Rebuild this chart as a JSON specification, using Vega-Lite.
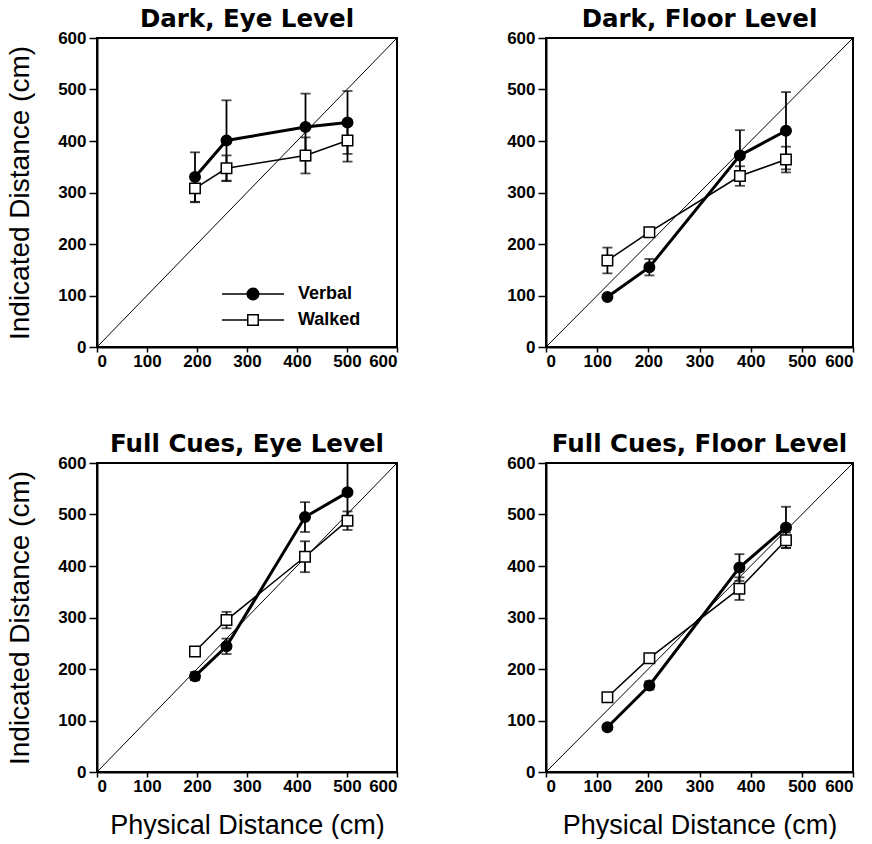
{
  "$schema": "https://vega.github.io/schema/vega-lite/v6.json",
  "background": "white",
  "padding": {"left": 5, "top": 5, "right": 5, "bottom": 0},
  "config": {
    "view": {"stroke": "black", "strokeWidth": 2},
    "axis": {
      "grid": false,
      "domainColor": "black", "domainWidth": 2,
      "tickColor": "black", "tickWidth": 1.5,
      "labelFont": "Liberation Sans", "labelFontWeight": "bold", "labelFontSize": 17, "labelColor": "black",
      "titleFont": "Liberation Sans", "titleFontWeight": "normal", "titleColor": "black",
      "values": [0, 100, 200, 300, 400, 500, 600]
    },
    "axisX": {"titlePadding": 18, "tickSize": 5, "labelPadding": 1, "titleFontSize": 27},
    "axisY": {"titlePadding": 23, "tickSize": 8, "labelPadding": 3, "titleFontSize": 28},
    "title": {"font": "DejaVu Sans", "fontWeight": "bold", "fontSize": 24.5, "color": "black", "offset": -3},
    "legend": {"padding": 0, "labelFont": "Liberation Sans", "labelFontWeight": "bold", "labelFontSize": 18, "labelColor": "black"}
  },
  "datasets": {
    "obs": [
      {"panel": "DE", "cond": "Verbal", "phys": 196, "ind": 330, "lo": 282, "hi": 378},
      {"panel": "DE", "cond": "Verbal", "phys": 259, "ind": 401, "lo": 323, "hi": 479},
      {"panel": "DE", "cond": "Verbal", "phys": 417, "ind": 427, "lo": 362, "hi": 492},
      {"panel": "DE", "cond": "Verbal", "phys": 501, "ind": 436, "lo": 375, "hi": 497},
      {"panel": "DE", "cond": "Walked", "phys": 196, "ind": 308, "lo": 281, "hi": 335},
      {"panel": "DE", "cond": "Walked", "phys": 259, "ind": 347, "lo": 322, "hi": 372},
      {"panel": "DE", "cond": "Walked", "phys": 417, "ind": 372, "lo": 337, "hi": 407},
      {"panel": "DE", "cond": "Walked", "phys": 501, "ind": 401, "lo": 360, "hi": 441},
      {"panel": "DF", "cond": "Verbal", "phys": 120, "ind": 97, "lo": 94, "hi": 100},
      {"panel": "DF", "cond": "Verbal", "phys": 202, "ind": 155, "lo": 139, "hi": 171},
      {"panel": "DF", "cond": "Verbal", "phys": 379, "ind": 372, "lo": 323, "hi": 421},
      {"panel": "DF", "cond": "Verbal", "phys": 469, "ind": 420, "lo": 345, "hi": 495},
      {"panel": "DF", "cond": "Walked", "phys": 120, "ind": 168, "lo": 143, "hi": 193},
      {"panel": "DF", "cond": "Walked", "phys": 202, "ind": 223, "lo": 215, "hi": 231},
      {"panel": "DF", "cond": "Walked", "phys": 379, "ind": 332, "lo": 313, "hi": 351},
      {"panel": "DF", "cond": "Walked", "phys": 469, "ind": 364, "lo": 339, "hi": 389},
      {"panel": "FE", "cond": "Verbal", "phys": 196, "ind": 186, "lo": 178, "hi": 194},
      {"panel": "FE", "cond": "Verbal", "phys": 259, "ind": 244, "lo": 229, "hi": 259},
      {"panel": "FE", "cond": "Verbal", "phys": 416, "ind": 495, "lo": 466, "hi": 524},
      {"panel": "FE", "cond": "Verbal", "phys": 501, "ind": 543, "lo": 486, "hi": 600},
      {"panel": "FE", "cond": "Walked", "phys": 196, "ind": 234, "lo": 230, "hi": 238},
      {"panel": "FE", "cond": "Walked", "phys": 259, "ind": 295, "lo": 279, "hi": 311},
      {"panel": "FE", "cond": "Walked", "phys": 416, "ind": 418, "lo": 388, "hi": 448},
      {"panel": "FE", "cond": "Walked", "phys": 501, "ind": 488, "lo": 470, "hi": 506},
      {"panel": "FF", "cond": "Verbal", "phys": 120, "ind": 87, "lo": 83, "hi": 91},
      {"panel": "FF", "cond": "Verbal", "phys": 202, "ind": 168, "lo": 160, "hi": 176},
      {"panel": "FF", "cond": "Verbal", "phys": 378, "ind": 397, "lo": 371, "hi": 423},
      {"panel": "FF", "cond": "Verbal", "phys": 469, "ind": 475, "lo": 435, "hi": 515},
      {"panel": "FF", "cond": "Walked", "phys": 120, "ind": 145, "lo": 141, "hi": 149},
      {"panel": "FF", "cond": "Walked", "phys": 202, "ind": 221, "lo": 215, "hi": 227},
      {"panel": "FF", "cond": "Walked", "phys": 378, "ind": 356, "lo": 334, "hi": 378},
      {"panel": "FF", "cond": "Walked", "phys": 469, "ind": 450, "lo": 435, "hi": 465}
    ],
    "diag": [{"p0": 0, "p1": 600}]
  },
  "resolve": {"scale": {"strokeWidth": "independent", "shape": "independent", "fill": "independent"}},
  "spacing": 60,
  "vconcat": [
    {
      "resolve": {"scale": {"strokeWidth": "independent", "shape": "independent", "fill": "independent"}},
      "spacing": 106,
      "hconcat": [
        {
          "title": "Dark, Eye Level",
          "width": 300, "height": 309,
          "resolve": {"scale": {"shape": "independent", "fill": "independent"}},
          "layer": [
            {"data": {"name": "diag"}, "mark": {"type": "rule", "color": "black", "strokeWidth": 1},
             "encoding": {"x": {"field": "p0", "type": "quantitative", "scale": {"domain": [0, 600]}, "title": null},
                          "y": {"field": "p0", "type": "quantitative", "scale": {"domain": [0, 600]}, "title": "Indicated Distance (cm)"},
                          "x2": {"field": "p1"}, "y2": {"field": "p1"}}},
            {"data": {"name": "obs"}, "transform": [{"filter": "datum.panel === 'DE'"}],
             "mark": {"type": "errorbar", "color": "black", "thickness": 1.8, "ticks": {"size": 10, "thickness": 1.8, "color": "black"}},
             "encoding": {"x": {"field": "phys", "type": "quantitative", "title": null}, "y": {"field": "lo", "type": "quantitative", "title": "Indicated Distance (cm)"}, "y2": {"field": "hi"}}},
            {"data": {"name": "obs"}, "transform": [{"filter": "datum.panel === 'DE'"}],
             "mark": {"type": "line", "color": "black"},
             "encoding": {"x": {"field": "phys", "type": "quantitative", "title": null}, "y": {"field": "ind", "type": "quantitative", "title": "Indicated Distance (cm)"},
                          "strokeWidth": {"field": "cond", "type": "nominal", "scale": {"range": [3, 1.5]}, "legend": null}}},
            {"data": {"name": "obs"}, "transform": [{"filter": "datum.panel === 'DE'"}],
             "mark": {"type": "point", "filled": false, "stroke": "black", "strokeWidth": 1.5, "size": 110, "opacity": 1},
             "encoding": {"x": {"field": "phys", "type": "quantitative", "title": null}, "y": {"field": "ind", "type": "quantitative", "title": "Indicated Distance (cm)"},
                          "shape": {"field": "cond", "type": "nominal", "scale": {"domain": ["Verbal", "Walked"], "range": ["circle", "square"]}, "legend": null},
                          "fill": {"field": "cond", "type": "nominal", "scale": {"domain": ["Verbal", "Walked"], "range": ["black", "white"]}, "legend": null}}},
            {"data": {"name": "obs"}, "transform": [{"filter": "false"}],
             "mark": {"type": "point", "filled": false, "stroke": "black", "strokeWidth": 1.5, "size": 110, "opacity": 1},
             "encoding": {"x": {"field": "phys", "type": "quantitative", "title": null}, "y": {"field": "ind", "type": "quantitative", "title": "Indicated Distance (cm)"},
                          "shape": {"field": "cond", "type": "nominal",
                                    "scale": {"domain": ["Verbal", "Walked"], "range": ["M-5.9,0H-1.1A1.1,1.1 0 1,1 1.1,0A1.1,1.1 0 1,1 -1.1,0M1.1,0H5.9", "M-5.9,0H-1M-1,-1H1V1H-1ZM1,0H5.9"]},
                                    "legend": {"title": null, "orient": "none", "legendX": 147, "legendY": 247, "symbolSize": 110, "labelOffset": 36, "rowPadding": 8}},
                          "fill": {"field": "cond", "type": "nominal", "scale": {"domain": ["Verbal", "Walked"], "range": ["black", "white"]},
                                   "legend": {"title": null, "orient": "none", "legendX": 147, "legendY": 247, "symbolSize": 110, "labelOffset": 36, "rowPadding": 8}}}}
          ]
        },
        {
          "title": "Dark, Floor Level",
          "width": 307, "height": 309,
          "layer": [
            {"data": {"name": "diag"}, "mark": {"type": "rule", "color": "black", "strokeWidth": 1},
             "encoding": {"x": {"field": "p0", "type": "quantitative", "scale": {"domain": [0, 600]}, "title": null},
                          "y": {"field": "p0", "type": "quantitative", "scale": {"domain": [0, 600]}, "title": null},
                          "x2": {"field": "p1"}, "y2": {"field": "p1"}}},
            {"data": {"name": "obs"}, "transform": [{"filter": "datum.panel === 'DF'"}],
             "mark": {"type": "errorbar", "color": "black", "thickness": 1.8, "ticks": {"size": 10, "thickness": 1.8, "color": "black"}},
             "encoding": {"x": {"field": "phys", "type": "quantitative", "title": null}, "y": {"field": "lo", "type": "quantitative", "title": null}, "y2": {"field": "hi"}}},
            {"data": {"name": "obs"}, "transform": [{"filter": "datum.panel === 'DF'"}],
             "mark": {"type": "line", "color": "black"},
             "encoding": {"x": {"field": "phys", "type": "quantitative", "title": null}, "y": {"field": "ind", "type": "quantitative", "title": null},
                          "strokeWidth": {"field": "cond", "type": "nominal", "scale": {"domain": ["Verbal", "Walked"], "range": [3, 1.5]}, "legend": null}}},
            {"data": {"name": "obs"}, "transform": [{"filter": "datum.panel === 'DF'"}],
             "mark": {"type": "point", "filled": false, "stroke": "black", "strokeWidth": 1.5, "size": 110, "opacity": 1},
             "encoding": {"x": {"field": "phys", "type": "quantitative", "title": null}, "y": {"field": "ind", "type": "quantitative", "title": null},
                          "shape": {"field": "cond", "type": "nominal", "scale": {"domain": ["Verbal", "Walked"], "range": ["circle", "square"]}, "legend": null},
                          "fill": {"field": "cond", "type": "nominal", "scale": {"domain": ["Verbal", "Walked"], "range": ["black", "white"]}, "legend": null}}}
          ]
        }
      ]
    },
    {
      "resolve": {"scale": {"strokeWidth": "independent", "shape": "independent", "fill": "independent"}},
      "spacing": 106,
      "hconcat": [
        {
          "title": "Full Cues, Eye Level",
          "width": 300, "height": 309,
          "layer": [
            {"data": {"name": "diag"}, "mark": {"type": "rule", "color": "black", "strokeWidth": 1},
             "encoding": {"x": {"field": "p0", "type": "quantitative", "scale": {"domain": [0, 600]}, "title": "Physical Distance (cm)"},
                          "y": {"field": "p0", "type": "quantitative", "scale": {"domain": [0, 600]}, "title": "Indicated Distance (cm)"},
                          "x2": {"field": "p1"}, "y2": {"field": "p1"}}},
            {"data": {"name": "obs"}, "transform": [{"filter": "datum.panel === 'FE'"}],
             "mark": {"type": "errorbar", "color": "black", "thickness": 1.8, "ticks": {"size": 10, "thickness": 1.8, "color": "black"}},
             "encoding": {"x": {"field": "phys", "type": "quantitative", "title": "Physical Distance (cm)"}, "y": {"field": "lo", "type": "quantitative", "title": "Indicated Distance (cm)"}, "y2": {"field": "hi"}}},
            {"data": {"name": "obs"}, "transform": [{"filter": "datum.panel === 'FE'"}],
             "mark": {"type": "line", "color": "black"},
             "encoding": {"x": {"field": "phys", "type": "quantitative", "title": "Physical Distance (cm)"}, "y": {"field": "ind", "type": "quantitative", "title": "Indicated Distance (cm)"},
                          "strokeWidth": {"field": "cond", "type": "nominal", "scale": {"domain": ["Verbal", "Walked"], "range": [3, 1.5]}, "legend": null}}},
            {"data": {"name": "obs"}, "transform": [{"filter": "datum.panel === 'FE'"}],
             "mark": {"type": "point", "filled": false, "stroke": "black", "strokeWidth": 1.5, "size": 110, "opacity": 1},
             "encoding": {"x": {"field": "phys", "type": "quantitative", "title": "Physical Distance (cm)"}, "y": {"field": "ind", "type": "quantitative", "title": "Indicated Distance (cm)"},
                          "shape": {"field": "cond", "type": "nominal", "scale": {"domain": ["Verbal", "Walked"], "range": ["circle", "square"]}, "legend": null},
                          "fill": {"field": "cond", "type": "nominal", "scale": {"domain": ["Verbal", "Walked"], "range": ["black", "white"]}, "legend": null}}}
          ]
        },
        {
          "title": "Full Cues, Floor Level",
          "width": 307, "height": 309,
          "layer": [
            {"data": {"name": "diag"}, "mark": {"type": "rule", "color": "black", "strokeWidth": 1},
             "encoding": {"x": {"field": "p0", "type": "quantitative", "scale": {"domain": [0, 600]}, "title": "Physical Distance (cm)"},
                          "y": {"field": "p0", "type": "quantitative", "scale": {"domain": [0, 600]}, "title": null},
                          "x2": {"field": "p1"}, "y2": {"field": "p1"}}},
            {"data": {"name": "obs"}, "transform": [{"filter": "datum.panel === 'FF'"}],
             "mark": {"type": "errorbar", "color": "black", "thickness": 1.8, "ticks": {"size": 10, "thickness": 1.8, "color": "black"}},
             "encoding": {"x": {"field": "phys", "type": "quantitative", "title": "Physical Distance (cm)"}, "y": {"field": "lo", "type": "quantitative", "title": null}, "y2": {"field": "hi"}}},
            {"data": {"name": "obs"}, "transform": [{"filter": "datum.panel === 'FF'"}],
             "mark": {"type": "line", "color": "black"},
             "encoding": {"x": {"field": "phys", "type": "quantitative", "title": "Physical Distance (cm)"}, "y": {"field": "ind", "type": "quantitative", "title": null},
                          "strokeWidth": {"field": "cond", "type": "nominal", "scale": {"domain": ["Verbal", "Walked"], "range": [3, 1.5]}, "legend": null}}},
            {"data": {"name": "obs"}, "transform": [{"filter": "datum.panel === 'FF'"}],
             "mark": {"type": "point", "filled": false, "stroke": "black", "strokeWidth": 1.5, "size": 110, "opacity": 1},
             "encoding": {"x": {"field": "phys", "type": "quantitative", "title": "Physical Distance (cm)"}, "y": {"field": "ind", "type": "quantitative", "title": null},
                          "shape": {"field": "cond", "type": "nominal", "scale": {"domain": ["Verbal", "Walked"], "range": ["circle", "square"]}, "legend": null},
                          "fill": {"field": "cond", "type": "nominal", "scale": {"domain": ["Verbal", "Walked"], "range": ["black", "white"]}, "legend": null}}}
          ]
        }
      ]
    }
  ]
}
